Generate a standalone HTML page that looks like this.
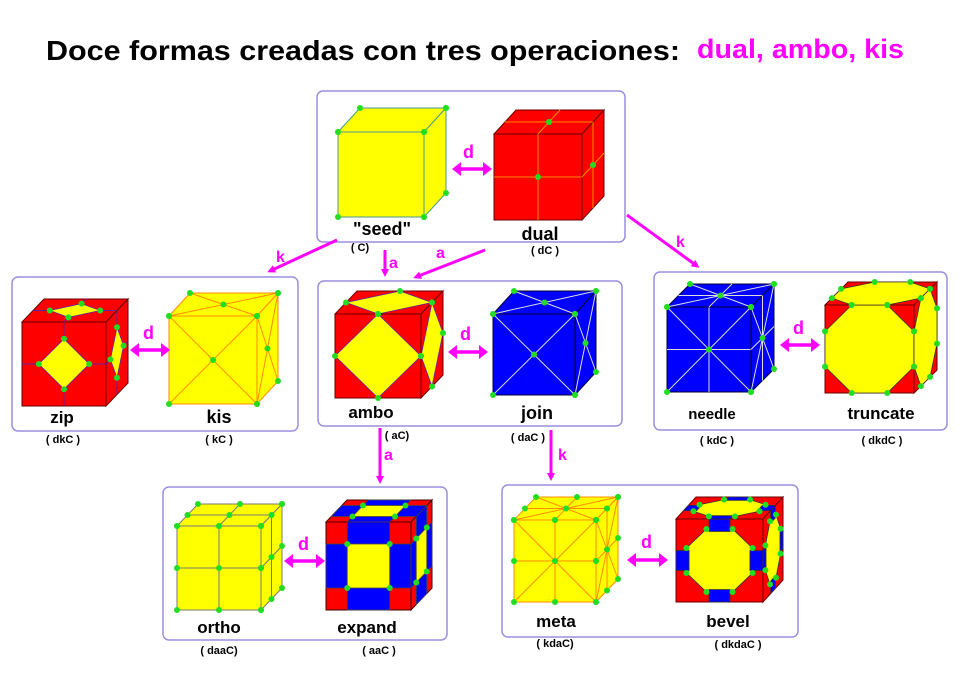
<!DOCTYPE html>
<html><head><meta charset="utf-8"><style>
html,body{margin:0;padding:0;background:#fff;}
svg{display:block;}
text{font-family:"Liberation Sans",Arial,sans-serif;font-weight:bold;}
</style></head><body>
<svg id="s" width="960" height="684" viewBox="0 0 960 684" xmlns="http://www.w3.org/2000/svg">
<defs>
<marker id="ah" markerWidth="8" markerHeight="8" refX="5" refY="4" orient="auto" markerUnits="userSpaceOnUse"><path d="M0,0 L8,4 L0,8 Z" fill="#f0f"/></marker>
</defs>
<text x="46" y="60" font-size="28" textLength="634" lengthAdjust="spacingAndGlyphs">Doce formas creadas con tres operaciones:</text>
<text x="697" y="58" font-size="27" fill="#f0f" textLength="207" lengthAdjust="spacingAndGlyphs">dual, ambo, kis</text>
<g fill="none" stroke="#9a8fe0" stroke-width="1.5">
<rect x="317" y="91" width="308" height="151" rx="6"/>
<rect x="12" y="277" width="286" height="154" rx="6"/>
<rect x="318" y="281" width="304" height="145" rx="6"/>
<rect x="654" y="272" width="293" height="158" rx="6"/>
<rect x="163" y="487" width="284" height="153" rx="6"/>
<rect x="502" y="485" width="296" height="152" rx="6"/>
</g>
<g id="cubes"></g>
<g stroke="#f0f" stroke-width="3" fill="none">
<line x1="337" y1="240" x2="270" y2="271" marker-end="url(#ah)"/>
<line x1="385" y1="250" x2="385" y2="274" marker-end="url(#ah)"/>
<line x1="485" y1="250" x2="416" y2="277" marker-end="url(#ah)"/>
<line x1="627" y1="215" x2="697" y2="266" marker-end="url(#ah)"/>
<line x1="380" y1="428" x2="380" y2="481" marker-end="url(#ah)"/>
<line x1="551" y1="430" x2="551" y2="478" marker-end="url(#ah)"/>
</g>
<g id="darr"></g>
<g fill="#f0f" font-size="16">
<text x="276" y="262">k</text>
<text x="389" y="268">a</text>
<text x="436" y="258">a</text>
<text x="676" y="247">k</text>
<text x="384" y="460">a</text>
<text x="558" y="460">k</text>
</g>
<g font-size="17" text-anchor="middle">
<text x="382" y="235" font-size="18">"seed"</text>
<text x="540" y="240" font-size="18">dual</text>
<text x="62" y="423">zip</text>
<text x="219" y="423" font-size="18">kis</text>
<text x="371" y="418">ambo</text>
<text x="537" y="419" font-size="18">join</text>
<text x="712" y="419" font-size="15">needle</text>
<text x="881" y="419">truncate</text>
<text x="219" y="633">ortho</text>
<text x="367" y="633">expand</text>
<text x="556" y="627">meta</text>
<text x="728" y="627">bevel</text>
</g>
<g font-size="11" text-anchor="middle">
<text x="360" y="251">( C)</text>
<text x="545" y="254">( dC )</text>
<text x="63" y="443">( dkC )</text>
<text x="219" y="443">( kC )</text>
<text x="397" y="439">( aC)</text>
<text x="528" y="441">( daC )</text>
<text x="717" y="444">( kdC )</text>
<text x="882" y="444">( dkdC )</text>
<text x="219" y="654">( daaC)</text>
<text x="379" y="654">( aaC )</text>
<text x="555" y="647">( kdaC)</text>
<text x="738" y="648">( dkdaC )</text>
</g>
<g fill="#f0f" font-size="18">
<text x="463" y="158">d</text>
<text x="143" y="339">d</text>
<text x="460" y="340">d</text>
<text x="793" y="334">d</text>
<text x="298" y="550">d</text>
<text x="641" y="548">d</text>
</g>
</svg>
<script>
var NS="http://www.w3.org/2000/svg";
function el(p,n,a){var e=document.createElementNS(NS,n);for(var k in a)e.setAttribute(k,a[k]);p.appendChild(e);return e;}
var G=document.getElementById("cubes");
var Y="#ffff00",R="#ff0000",B="#0000ff",O="#ff8c00",GR="#22dd22";
function diag(){return [[0,0,1,1],[1,0,0,1]];}
function cross(){return [[.5,0,.5,1],[0,.5,1,.5]];}
var corners=[[0,0],[1,0],[1,1],[0,1]];
var P={
seed:{b:Y,lc:"#4a9a8a",polys:[],lines:[],dots:corners,ec:"#4a9a8a"},
dual:{b:R,lc:O,polys:[],lines:cross(),dots:[[.5,.5]],ec:"#600"},
zip:{b:R,lc:"#6020a0",polys:[[[.5,.2],[.8,.5],[.5,.8],[.2,.5],Y]],lines:[[.5,0,.5,.2],[.5,.8,.5,1],[0,.5,.2,.5],[.8,.5,1,.5]],dots:[[.5,.2],[.8,.5],[.5,.8],[.2,.5]],ec:"#600"},
kis:{b:Y,lc:O,polys:[],lines:diag(),dots:corners.concat([[.5,.5]]),ec:O},
ambo:{b:R,lc:"#6020a0",polys:[[[.5,0],[1,.5],[.5,1],[0,.5],Y]],lines:[],dots:[[.5,0],[1,.5],[.5,1],[0,.5]],ec:"#600"},
join:{b:B,lc:"#ddd",polys:[],lines:diag(),dots:corners.concat([[.5,.5]]),ec:"#003"},
needle:{b:B,lc:"#ddd",polys:[],lines:diag().concat(cross()),dots:corners.concat([[.5,.5]]),ec:"#003"},
truncate:{b:R,lc:"#333",polys:[[[.3,0],[.7,0],[1,.3],[1,.7],[.7,1],[.3,1],[0,.7],[0,.3],Y]],lines:[],dots:[[.3,0],[.7,0],[1,.3],[1,.7],[.7,1],[.3,1],[0,.7],[0,.3]],ec:"#600"},
ortho:{b:Y,lc:"#777",polys:[],lines:cross(),dots:[[0,0],[.5,0],[1,0],[0,.5],[.5,.5],[1,.5],[0,1],[.5,1],[1,1]],ec:"#777"},
expand:{b:R,lc:"#444",polys:[[[.25,0],[.75,0],[.75,.25],[.25,.25],B],[[.25,.75],[.75,.75],[.75,1],[.25,1],B],[[0,.25],[.25,.25],[.25,.75],[0,.75],B],[[.75,.25],[1,.25],[1,.75],[.75,.75],B],[[.25,.25],[.75,.25],[.75,.75],[.25,.75],Y]],lines:[],dots:[[.25,.25],[.75,.25],[.75,.75],[.25,.75]],ec:"#400"},
meta:{b:Y,lc:O,polys:[],lines:diag().concat(cross()),dots:[[0,0],[.5,0],[1,0],[0,.5],[.5,.5],[1,.5],[0,1],[.5,1],[1,1]],ec:O},
bevel:{b:R,lc:"#333",polys:[[[.35,.12],[.65,.12],[.88,.35],[.88,.65],[.65,.88],[.35,.88],[.12,.65],[.12,.35],Y],[[.38,0],[.62,0],[.62,.15],[.38,.15],B],[[.38,.85],[.62,.85],[.62,1],[.38,1],B],[[0,.38],[.15,.38],[.15,.62],[0,.62],B],[[.85,.38],[1,.38],[1,.62],[.85,.62],B]],lines:[],dots:[[.35,.12],[.65,.12],[.88,.35],[.88,.65],[.65,.88],[.35,.88],[.12,.65],[.12,.35]],ec:"#600"}
};
function cube(x1,y1,x2,y2,dx,dy,name){
 var p=P[name],w=x2-x1,h=y2-y1;
 var faces=[
  function(u,v){return [x1+u*w,y1+v*h];},
  function(u,v){return [x1+u*w+(1-v)*dx,y1+(1-v)*dy];},
  function(u,v){return [x2+u*dx,y1+v*h+u*dy];}
 ];
 var g=el(G,"g",{});
 faces.forEach(function(f,i){
  var pts=function(a){return a.map(function(q){return f(q[0],q[1]).join(",");}).join(" ");};
  el(g,"polygon",{points:pts(corners),fill:p.b,stroke:p.ec,"stroke-width":1});
  p.polys.forEach(function(pl){var c=pl[pl.length-1];el(g,"polygon",{points:pts(pl.slice(0,-1)),fill:c,stroke:p.lc,"stroke-width":.8});});
  p.lines.forEach(function(l){var a=f(l[0],l[1]),b=f(l[2],l[3]);el(g,"line",{x1:a[0],y1:a[1],x2:b[0],y2:b[1],stroke:p.lc,"stroke-width":1});});
 });
 faces.forEach(function(f){p.dots.forEach(function(d){var a=f(d[0],d[1]);el(g,"circle",{cx:a[0],cy:a[1],r:3,fill:GR});});});
}
cube(338,132,424,217,22,-24,"seed");
cube(494,134,582,220,22,-24,"dual");
cube(22,322,106,406,22,-23,"zip");
cube(169,316,257,404,21,-23,"kis");
cube(335,314,421,398,22,-23,"ambo");
cube(493,314,575,395,21,-23,"join");
cube(667,307,751,392,23,-23,"needle");
cube(825,305,914,393,23,-23,"truncate");
cube(177,526,261,610,21,-22,"ortho");
cube(326,522,411,610,21,-22,"expand");
cube(514,520,596,602,22,-23,"meta");
cube(676,519,763,602,20,-22,"bevel");
var D=document.getElementById("darr");
[[452,492,169],[130,170,350],[448,488,352],[780,820,345],[284,325,561],[627,668,560]].forEach(function(a){
 el(D,"line",{x1:a[0]+6,y1:a[2],x2:a[1]-6,y2:a[2],stroke:"#f0f","stroke-width":3.5});
 el(D,"polygon",{points:a[0]+","+a[2]+" "+(a[0]+9)+","+(a[2]-7)+" "+(a[0]+9)+","+(a[2]+7),fill:"#f0f"});
 el(D,"polygon",{points:a[1]+","+a[2]+" "+(a[1]-9)+","+(a[2]-7)+" "+(a[1]-9)+","+(a[2]+7),fill:"#f0f"});
});
</script>
</body></html>
